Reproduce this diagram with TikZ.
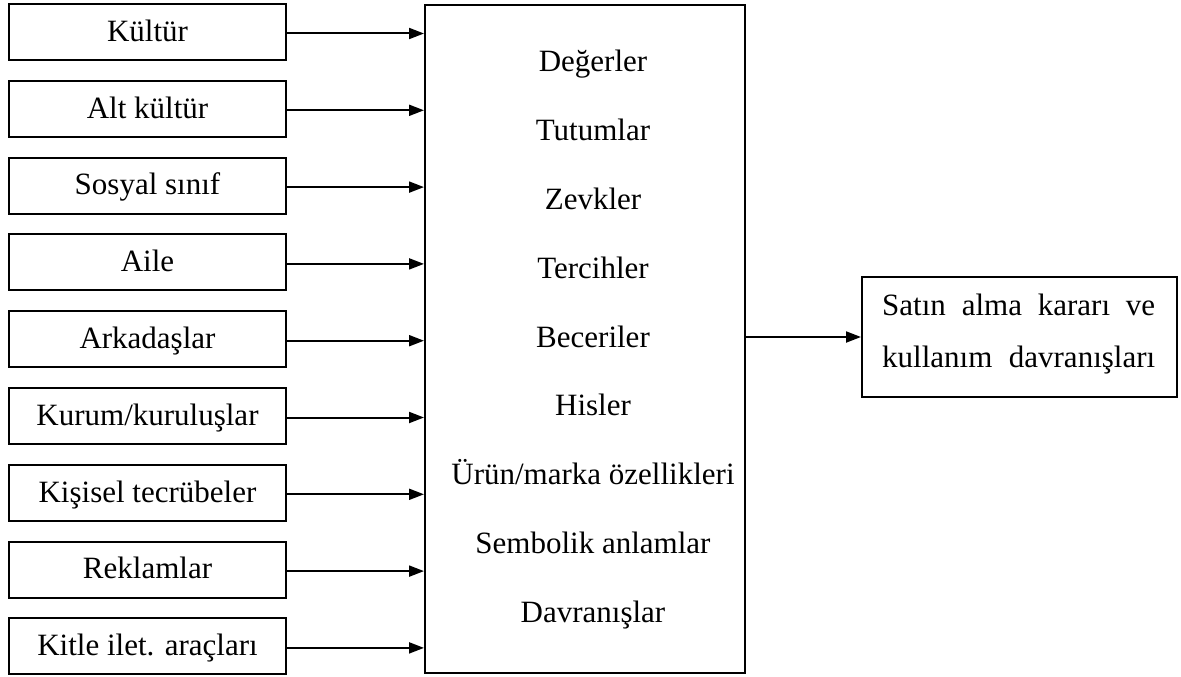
\documentclass[tikz,border=0pt]{standalone}
\usepackage{fontspec}
\setmainfont{Liberation Serif}
\usetikzlibrary{arrows.meta}
\begin{document}
\begin{tikzpicture}[x=1pt,y=-1pt,
  every node/.style={font=\fontsize{31}{52}\selectfont},
  lbox/.style={draw, line width=2pt, minimum width=277pt, minimum height=56pt, inner sep=0pt, text height=21.7pt, text depth=3pt},
  bigbox/.style={draw, line width=2pt, minimum width=320pt, minimum height=668pt, inner sep=0pt},
  rbox/.style={draw, line width=2pt, minimum width=315pt, minimum height=120pt, inner sep=0pt},
  ctext/.style={anchor=base, inner sep=0pt},
  rtext/.style={anchor=base west, inner sep=0pt},
  arr/.style={line width=2pt, -{Triangle[length=15pt,width=11pt]}}]
\useasboundingbox (0,0) rectangle (1181,677);
\node[bigbox] (main) at (585,339) {};
\foreach \t [count=\i from 0] in {Kültür,Alt kültür,Sosyal sınıf,Aile,Arkadaşlar,Kurum/kuruluşlar,Kişisel tecrübeler,Reklamlar,Kitle ilet. araçları}{
  \node[lbox] (l\i) at (147.5, {32+76.8*\i}) {\t};
  \draw[arr] ([yshift=-1.5pt]l\i.east) -- ([yshift=-1.5pt]l\i.east -| main.west);
}
\foreach \t [count=\i from 0] in {Değerler,Tutumlar,Zevkler,Tercihler,Beceriler,Hisler,Ürün/marka özellikleri,Sembolik anlamlar,Davranışlar}{
  \node[ctext] (c\i) at (593, {72+68.75*\i}) {\t};
}
\node[rbox] (r) at (1019.5,337) {};
\node[rtext] (r1) at (882,315) {\makebox[273pt][s]{Satın alma kararı ve}};
\node[rtext] (r2) at (882,367) {\makebox[273pt][s]{kullanım davranışları}};
\draw[arr] (main.east |- r.west) -- (r.west);
\end{tikzpicture}
\end{document}
